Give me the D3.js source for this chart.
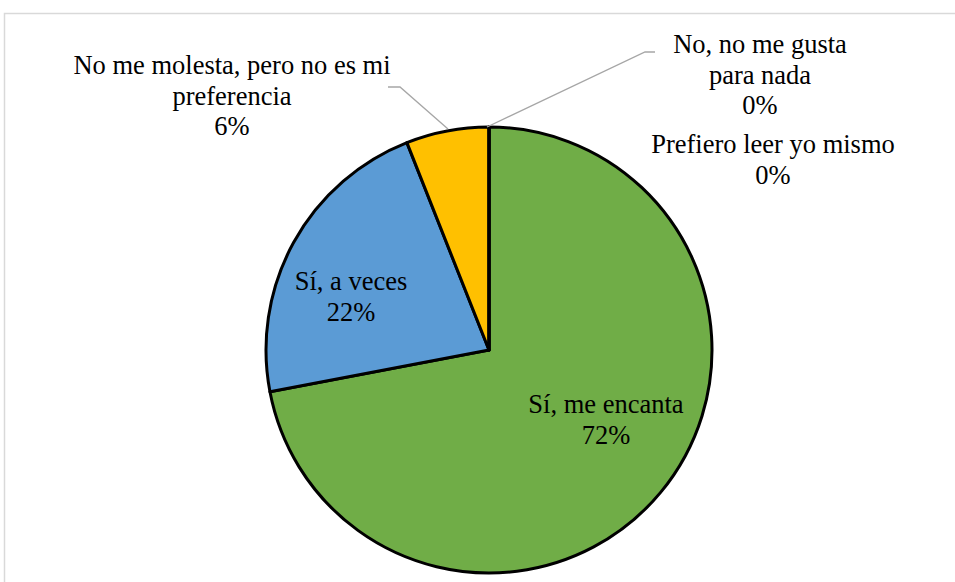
<!DOCTYPE html>
<html><head><meta charset="utf-8">
<script src="https://cdn.jsdelivr.net/npm/d3@7"></script>
<style>body{margin:0;background:#fff;} svg{display:block;} text{font-family:"Liberation Serif","Times New Roman",serif;}</style>
</head><body>
<svg id="c" width="955" height="582"></svg>
<script>
const categories = ["Sí, me encanta", "Sí, a veces", "No me molesta, pero no es mi preferencia", "No, no me gusta para nada", "Prefiero leer yo mismo"];
const values = [36, 11, 3, 0, 0];
const colors = ["#70ad47", "#5b9bd5", "#ffc000", "#ed7d31", "#a5a5a5"];
const labelLines = [
  ["Sí, me encanta"],
  ["Sí, a veces"],
  ["No me molesta, pero no es mi", "preferencia"],
  ["No, no me gusta", "para nada"],
  ["Prefiero leer yo mismo"]
];
// layout (label baselines)
const cx = 489, cy = 350, R = 223;
const lineH = 30.5;
const labelPos = [[606, 413], [351, 290], [232, 74], [760, 53], [773, 153]];
const leaders = [null, null, [[388,87],[400,87],[448,129]], [[487,127],[645,52],[655,52]], null];

const svg = d3.select("#c");
svg.append("rect").attr("x", 4.5).attr("y", 13.5).attr("width", 960).attr("height", 600)
  .attr("fill", "#fff").attr("stroke", "#d9d9d9").attr("stroke-width", 1.5);

const total = d3.sum(values);
const pie = d3.pie().sort(null).value(d => d)(values);
const arc = d3.arc().innerRadius(0).outerRadius(R);
const g = svg.append("g").attr("transform", `translate(${cx},${cy})`);
g.selectAll("path").data(pie).join("path")
  .attr("d", arc).attr("fill", (d, i) => colors[i])
  .attr("stroke", "#000").attr("stroke-width", 3).attr("stroke-linejoin", "round");

const line = d3.line();
leaders.forEach(l => {
  if (!l) return;
  svg.append("path").attr("d", line(l)).attr("fill", "none").attr("stroke", "#a6a6a6").attr("stroke-width", 1.3);
});

labelLines.forEach((lines, i) => {
  const pct = d3.format(".0%")(values[i] / total);
  const all = lines.concat([pct]);
  const t = svg.append("text").attr("text-anchor", "middle")
    .style("font-size", "26.5px").attr("fill", "#000");
  all.forEach((s, j) => {
    t.append("tspan").attr("x", labelPos[i][0]).attr("y", labelPos[i][1] + j * lineH).text(s);
  });
});
</script>
</body></html>
